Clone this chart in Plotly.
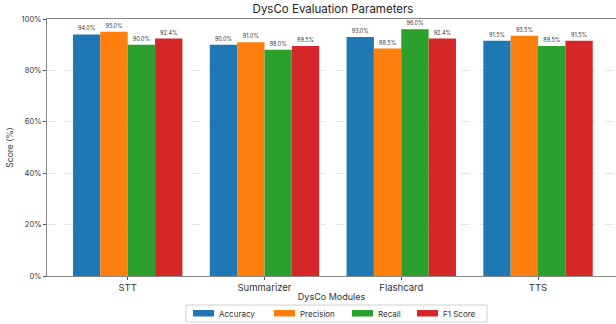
import plotly.graph_objects as go

# DysCo module evaluation scores (%)
modules = ["STT", "Summarizer", "Flashcard", "TTS"]
accuracy = [94.0, 90.0, 93.0, 91.5]
precision = [95.0, 91.0, 88.5, 93.5]
recall = [90.0, 88.0, 96.0, 89.5]
f1_score = [92.4, 89.5, 92.4, 91.5]

series_names = ["Accuracy", "Precision", "Recall", "F1 Score"]
series_values = [accuracy, precision, recall, f1_score]
colors = ["#1f77b4", "#ff7f0e", "#2ca02c", "#d62728"]

FONT = "Inter, Open Sans, sans-serif"
W, H = 616, 324
L, R, T, B = 47, 0, 19, 48
PW, PH = W - L - R, H - T - B


def px_x(px):
    """Pixel column -> paper x."""
    return (px - L) / PW


def px_y(py):
    """Pixel row -> paper y."""
    return (H - B - py) / PH


fig = go.Figure()
for name, vals, color in zip(series_names, series_values, colors):
    fig.add_trace(go.Bar(
        name=name,
        x=list(range(len(modules))),
        y=vals,
        marker=dict(color=color, line=dict(width=0)),
        text=[f"{v:.1f}%" for v in vals],
        textposition="outside",
        textfont=dict(size=5.5, color="#333"),
        cliponaxis=False,
        showlegend=False,
    ))

# legend drawn as a boxed row of wide colour patches under the axis title
legend_left, legend_right = 186, 487
legend_top, legend_bottom = 305, 322
fig.add_shape(type="rect", xref="paper", yref="paper",
              x0=px_x(legend_left), x1=px_x(legend_right),
              y0=px_y(legend_bottom), y1=px_y(legend_top),
              line=dict(color="#d0d0d0", width=1), fillcolor="white", layer="above")
patch_starts = [193, 274, 352, 417]
for name, color, x0 in zip(series_names, colors, patch_starts):
    fig.add_shape(type="rect", xref="paper", yref="paper",
                  x0=px_x(x0), x1=px_x(x0 + 21),
                  y0=px_y(316.5), y1=px_y(310),
                  line=dict(width=0), fillcolor=color, layer="above")
    fig.add_annotation(text=name, xref="paper", yref="paper",
                       x=px_x(x0 + 24), y=px_y(313.5), xanchor="left", yanchor="middle",
                       showarrow=False, font=dict(size=8, color="#333"))

fig.update_layout(
    width=W, height=H,
    margin=dict(l=L, r=R, t=T, b=B, autoexpand=False),
    paper_bgcolor="white",
    plot_bgcolor="white",
    barmode="group",
    bargap=0.2,
    bargroupgap=0,
    font=dict(family=FONT, color="#333"),
    title=dict(text="DysCo Evaluation Parameters", x=px_x(333), xref="paper", xanchor="center",
               y=0.985, yanchor="top", font=dict(size=11.5, color="#222")),
    showlegend=False,
)

fig.update_xaxes(
    range=[-0.59, 3.57],
    tickmode="array",
    tickvals=list(range(len(modules))),
    ticktext=modules,
    tickfont=dict(size=9.5),
    ticks="outside", ticklen=3, tickcolor="#555",
    showline=True, linecolor="#888", linewidth=1, mirror=True,
    showgrid=False,
    automargin=False,
    title=dict(text="DysCo Modules", font=dict(size=9), standoff=1),
)
fig.update_yaxes(
    range=[0, 100],
    tickvals=[0, 20, 40, 60, 80, 100],
    ticktext=["0%", "20%", "40%", "60%", "80%", "100%"],
    tickfont=dict(size=7.5),
    ticks="outside", ticklen=3, tickcolor="#555",
    showline=True, linecolor="#888", linewidth=1, mirror=False,
    showgrid=True, gridcolor="#e6e6e6", griddash="dash", gridwidth=0.6,
    zeroline=False,
    automargin=False,
    title=dict(text="Score (%)", font=dict(size=8.5), standoff=6),
)

fig.write_html("out.html")
